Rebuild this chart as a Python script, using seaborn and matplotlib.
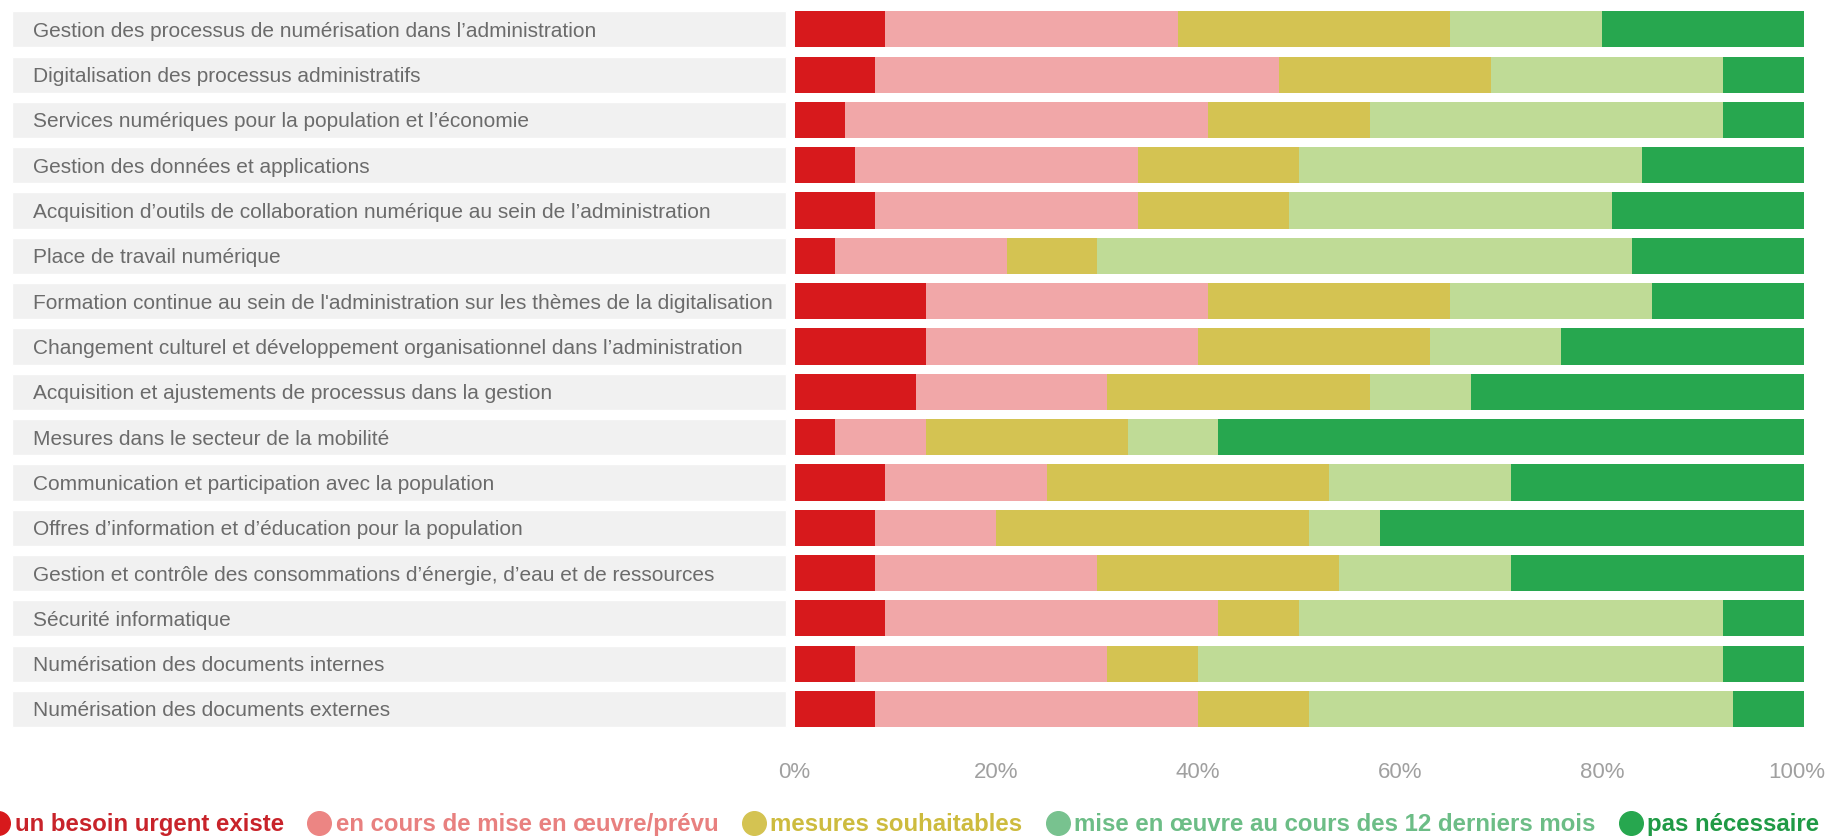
import numpy as np
import pandas as pd
import matplotlib.pyplot as plt
import matplotlib.transforms as mtransforms
import seaborn as sns
from matplotlib.lines import Line2D

# Données (en %)
themes = [
    "Gestion des processus de numérisation dans l’administration",
    "Digitalisation des processus administratifs",
    "Services numériques pour la population et l’économie",
    "Gestion des données et applications",
    "Acquisition d’outils de collaboration numérique au sein de l’administration",
    "Place de travail numérique",
    "Formation continue au sein de l'administration sur les thèmes de la digitalisation",
    "Changement culturel et développement organisationnel dans l’administration",
    "Acquisition et ajustements de processus dans la gestion",
    "Mesures dans le secteur de la mobilité",
    "Communication et participation avec la population",
    "Offres d’information et d’éducation pour la population",
    "Gestion et contrôle des consommations d’énergie, d’eau et de ressources",
    "Sécurité informatique",
    "Numérisation des documents internes",
    "Numérisation des documents externes",
]
urgent = [9, 8, 5, 6, 8, 4, 13, 13, 12, 4, 9, 8, 8, 9, 6, 8]
en_cours = [29, 40, 36, 28, 26, 17, 28, 27, 19, 9, 16, 12, 22, 33, 25, 32]
souhaitables = [27, 21, 16, 16, 15, 9, 24, 23, 26, 20, 28, 31, 24, 8, 9, 11]
realise = [15, 23, 35, 34, 32, 53, 20, 13, 10, 9, 18, 7, 17, 42, 52, 42]
pas_necessaire = [20, 8, 8, 16, 19, 17, 15, 24, 33, 58, 29, 42, 29, 8, 8, 7]

categories = ["un besoin urgent existe", "en cours de mise en œuvre/prévu",
              "mesures souhaitables", "mise en œuvre au cours des 12 derniers mois",
              "pas nécessaire"]
bar_colors = ["#d7191c", "#f1a7a8", "#d4c352", "#bfdb96", "#27a74f"]
dot_colors = ["#d7191c", "#ec8583", "#d4c352", "#78c28f", "#27a74f"]
text_colors = ["#c8232a", "#e8807f", "#cdbb3e", "#6cbd86", "#1f9a45"]

df = pd.DataFrame({"theme": themes, categories[0]: urgent, categories[1]: en_cours,
                   categories[2]: souhaitables, categories[3]: realise,
                   categories[4]: pas_necessaire})
cum = df[categories].cumsum(axis=1)

sns.set_style("white")
plt.rcParams['font.family'] = ['Liberation Sans', 'DejaVu Sans']

fig = plt.figure(figsize=(18.31, 8.40), dpi=100)
ax = fig.add_axes([0.434, 0.129, 0.551, 0.863])

# fonds gris des libellés
ax.barh(np.arange(len(themes)), width=76.7, left=-77.6, height=0.8,
        color="#f1f1f1", clip_on=False, zorder=0)

# barres empilées : on dessine les cumuls du plus grand au plus petit
for cat, col in reversed(list(zip(categories, bar_colors))):
    sns.barplot(x=cum[cat], y=df["theme"], orient="h", color=col,
                width=0.8, ax=ax, saturation=1, linewidth=0)

for i, t in enumerate(themes):
    ax.text(-75.5, i, t, ha="left", va="center_baseline", fontsize=15,
            color="#6b6b6b", clip_on=False)

ax.set_xlim(0, 100)
ax.set_ylim(len(themes) - 0.5, -0.5)
ax.set_yticks([])
ax.set_ylabel("")
ax.set_xlabel("")
ax.set_xticks([0, 20, 40, 60, 80, 100])
ax.set_xticklabels(["0%", "20%", "40%", "60%", "80%", "100%"], fontsize=16,
                   color="#a0a0a0")
ax.tick_params(axis="x", length=0, pad=22)
last = ax.get_xticklabels()[-1]
last.set_transform(last.get_transform() +
                   mtransforms.ScaledTranslation(-0.07, 0, fig.dpi_scale_trans))
for s in ax.spines.values():
    s.set_visible(False)

handles = [Line2D([], [], marker="o", linestyle="", markersize=17, color=c)
           for c in dot_colors]
leg = fig.legend(handles, categories, loc="lower left",
                 bbox_to_anchor=(-0.012, -0.007, 1.011, 0.043), mode="expand",
                 ncol=5, frameon=False, handletextpad=0.25, columnspacing=0.5,
                 handlelength=0.9, labelcolor=text_colors, borderaxespad=0,
                 prop={"size": 17.3, "weight": "bold"})

fig.savefig("out.png", dpi=100)
